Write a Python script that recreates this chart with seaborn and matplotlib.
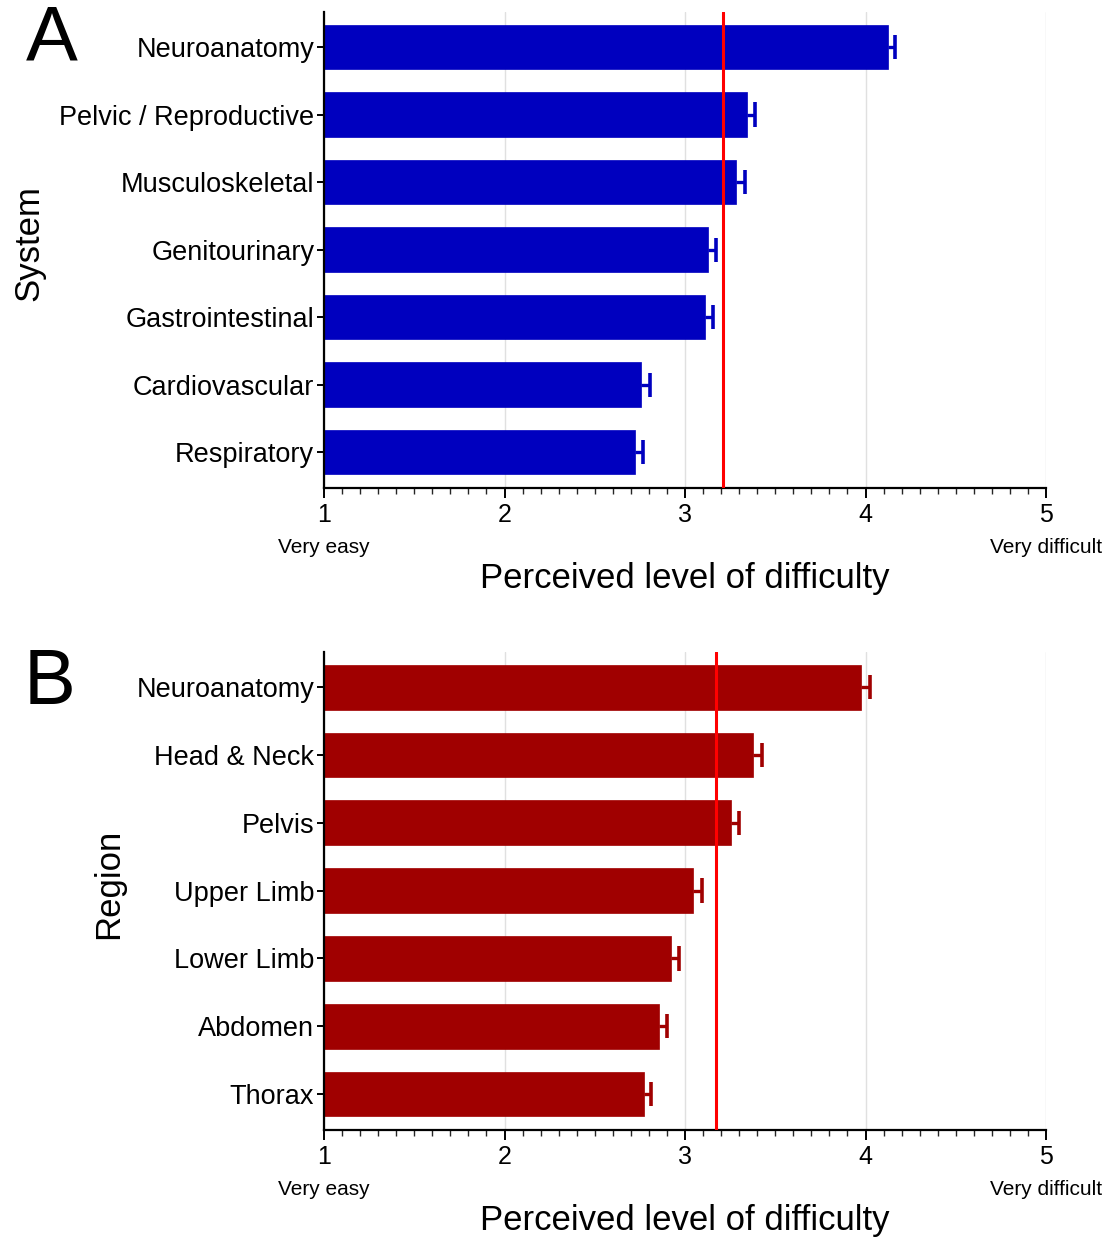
import matplotlib
matplotlib.use("Agg")
import matplotlib.pyplot as plt
import seaborn as sns
import pandas as pd
import numpy as np
from matplotlib.ticker import MultipleLocator

sns.set_theme(style="white")
plt.rcParams['font.family'] = ['Liberation Sans', 'DejaVu Sans']
plt.rcParams['text.color'] = 'black'
plt.rcParams['axes.labelcolor'] = 'black'

systems = ["Neuroanatomy", "Pelvic / Reproductive", "Musculoskeletal", "Genitourinary",
           "Gastrointestinal", "Cardiovascular", "Respiratory"]
system_means = [4.125, 3.343, 3.283, 3.126, 3.113, 2.758, 2.725]
system_err = [0.04, 0.043, 0.047, 0.044, 0.04, 0.047, 0.041]
system_overall = 3.212

regions = ["Neuroanatomy", "Head & Neck", "Pelvis", "Upper Limb", "Lower Limb", "Abdomen", "Thorax"]
region_means = [3.977, 3.377, 3.255, 3.042, 2.92, 2.858, 2.773]
region_err = [0.048, 0.047, 0.042, 0.05, 0.048, 0.04, 0.041]
region_overall = 3.172

xticks = [1, 2, 3, 4, 5]
x_end_labels = ["Very easy", "Very difficult"]

fig = plt.figure(figsize=(11.18, 12.49), dpi=100)
W, H = 1118, 1249

def panel(rect, cats, means, errs, overall, color, ylabel, letter, letter_xy, ylabel_x):
    left, top, right, bottom = rect
    ax = fig.add_axes([left / W, 1 - bottom / H, (right - left) / W, (bottom - top) / H])
    df = pd.DataFrame({"cat": cats, "mean": means})
    sns.barplot(data=df, y="cat", x="mean", orient="h", color=color, width=0.66,
                saturation=1, ax=ax, edgecolor=color, linewidth=0.5)
    ypos = np.arange(len(cats))
    m = np.array(means)
    e = np.array(errs)
    ax.hlines(ypos, m, m + e, color=color, lw=2.4, zorder=3)
    ax.vlines(m + e, ypos - 0.18, ypos + 0.18, color=color, lw=2.6, zorder=3)
    ax.axvline(overall, color="#ff0000", lw=2.2, zorder=4)
    ax.set_xlim(1, 5)
    ax.set_ylim(len(cats) - 0.47, -0.52)
    ax.set_xticks(xticks)
    ax.xaxis.set_minor_locator(MultipleLocator(0.1))
    ax.grid(axis="x", color="#e0e0e0", lw=1, zorder=0)
    ax.set_axisbelow(True)
    for s in ["top", "right"]:
        ax.spines[s].set_visible(False)
    for s in ["left", "bottom"]:
        ax.spines[s].set_color("black")
        ax.spines[s].set_linewidth(1.6)
    ax.tick_params(axis="x", which="major", direction="out", length=7, width=1.4,
                   labelsize=18, pad=4, bottom=True, colors="black")
    ax.tick_params(axis="x", which="minor", direction="out", length=4, width=1.0, bottom=True)
    ax.tick_params(axis="y", which="major", direction="out", length=5, width=1.4,
                   labelsize=19.5, pad=2, left=True, colors="black")
    ax.set_xlabel("Perceived level of difficulty", fontsize=25, labelpad=25)
    ax.set_ylabel(ylabel, fontsize=25)
    ax.yaxis.set_label_coords((ylabel_x - left) / (right - left), 0.515)
    ax.text(1, -0.124, x_end_labels[0], transform=ax.get_xaxis_transform(),
            ha="center", va="center", fontsize=15)
    ax.text(5, -0.124, x_end_labels[1], transform=ax.get_xaxis_transform(),
            ha="center", va="center", fontsize=15)
    fig.text(letter_xy[0] / W, 1 - letter_xy[1] / H, letter, fontsize=56,
             ha="center", va="center", color="black")
    return ax

panel((324, 12, 1046, 488), systems, system_means, system_err, system_overall,
      "#0000bf", "System", "A", (52, 40), 45)
panel((324, 652, 1046, 1130), regions, region_means, region_err, region_overall,
      "#a00000", "Region", "B", (50, 683), 125)

fig.savefig("out.png", dpi=100)
